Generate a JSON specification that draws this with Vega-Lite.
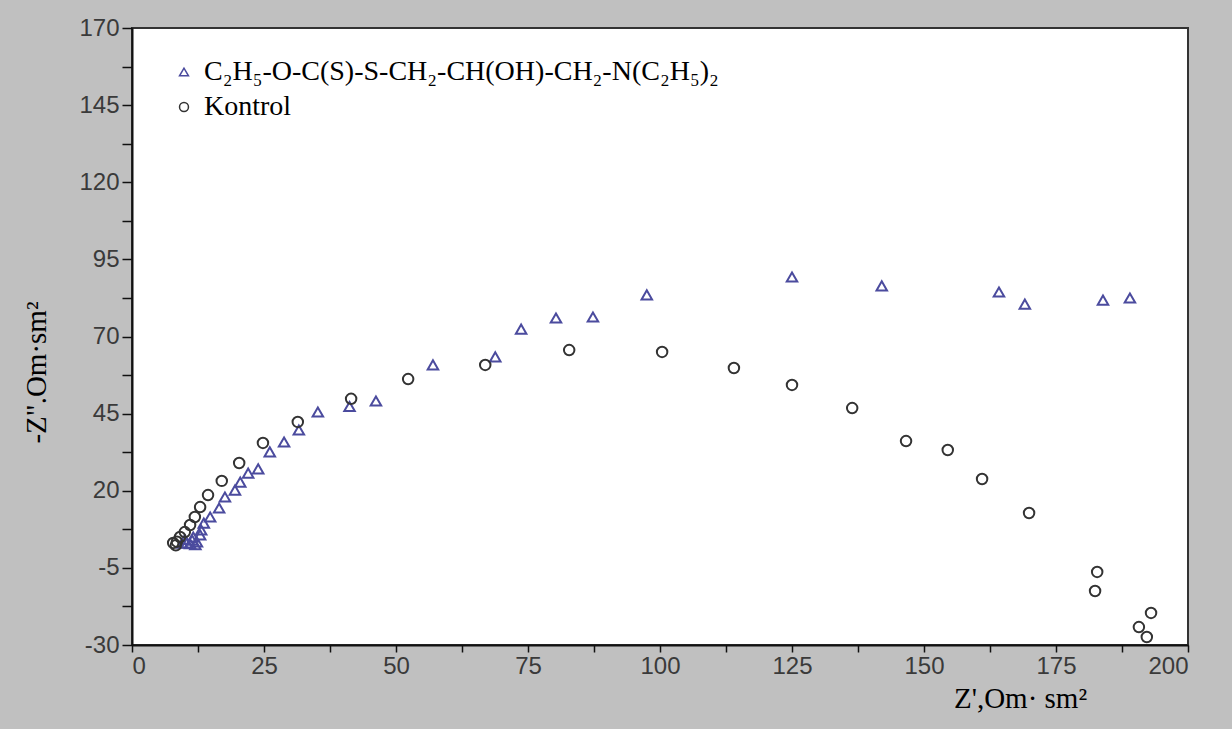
{
  "$schema": "https://vega.github.io/schema/vega-lite/v6.json",
  "autosize": "none",
  "width": 1056,
  "height": 617,
  "padding": {"left": 132, "top": 28, "right": 44, "bottom": 84},
  "background": "#c0c0c0",
  "config": {
    "view": {"fill": "white", "stroke": "#333333", "strokeWidth": 2},
    "axis": {
      "grid": false,
      "domainColor": "#111111",
      "domainWidth": 2,
      "tickColor": "#111111",
      "tickWidth": 1.5,
      "labelFont": "Liberation Sans",
      "labelFontSize": 24,
      "labelColor": "#3a3a3a",
      "titleFont": "Liberation Serif",
      "titleFontWeight": "normal",
      "titleFontSize": 29,
      "titleColor": "#000000"
    }
  },
  "data": {
    "values": [
      {"s": "A", "zr": 189.0, "zi": 82.5},
      {"s": "A", "zr": 183.9, "zi": 81.8},
      {"s": "A", "zr": 169.1, "zi": 80.5},
      {"s": "A", "zr": 164.2, "zi": 84.4},
      {"s": "A", "zr": 142.0, "zi": 86.4},
      {"s": "A", "zr": 125.0, "zi": 89.3},
      {"s": "A", "zr": 97.5, "zi": 83.5},
      {"s": "A", "zr": 87.3, "zi": 76.3},
      {"s": "A", "zr": 80.3, "zi": 76.0},
      {"s": "A", "zr": 73.7, "zi": 72.4},
      {"s": "A", "zr": 68.8, "zi": 63.4},
      {"s": "A", "zr": 57.0, "zi": 60.8},
      {"s": "A", "zr": 46.2, "zi": 49.1},
      {"s": "A", "zr": 41.2, "zi": 47.3},
      {"s": "A", "zr": 35.2, "zi": 45.5},
      {"s": "A", "zr": 31.6, "zi": 39.7},
      {"s": "A", "zr": 28.8, "zi": 35.8},
      {"s": "A", "zr": 26.1, "zi": 32.6},
      {"s": "A", "zr": 23.9, "zi": 27.1},
      {"s": "A", "zr": 22.0, "zi": 25.7},
      {"s": "A", "zr": 20.5, "zi": 22.8},
      {"s": "A", "zr": 19.5, "zi": 20.2},
      {"s": "A", "zr": 17.6, "zi": 18.0},
      {"s": "A", "zr": 16.5, "zi": 14.4},
      {"s": "A", "zr": 14.8, "zi": 11.5},
      {"s": "A", "zr": 13.6, "zi": 9.5},
      {"s": "A", "zr": 13.1, "zi": 7.3},
      {"s": "A", "zr": 12.9, "zi": 5.7},
      {"s": "A", "zr": 11.6, "zi": 5.0},
      {"s": "A", "zr": 12.3, "zi": 3.4},
      {"s": "A", "zr": 11.4, "zi": 4.0},
      {"s": "A", "zr": 10.4, "zi": 3.1},
      {"s": "A", "zr": 9.5, "zi": 3.0},
      {"s": "A", "zr": 11.0, "zi": 2.8},
      {"s": "A", "zr": 12.0, "zi": 2.5},
      {"s": "A", "zr": 10.0, "zi": 4.2},
      {"s": "B", "zr": 193.0, "zi": -19.6},
      {"s": "B", "zr": 190.7, "zi": -24.2},
      {"s": "B", "zr": 192.2, "zi": -27.4},
      {"s": "B", "zr": 182.8, "zi": -6.3},
      {"s": "B", "zr": 182.4, "zi": -12.5},
      {"s": "B", "zr": 169.9, "zi": 12.8},
      {"s": "B", "zr": 161.0, "zi": 23.8},
      {"s": "B", "zr": 154.5, "zi": 33.2},
      {"s": "B", "zr": 146.6, "zi": 36.1},
      {"s": "B", "zr": 136.4, "zi": 46.8},
      {"s": "B", "zr": 125.0, "zi": 54.3},
      {"s": "B", "zr": 114.0, "zi": 59.8},
      {"s": "B", "zr": 100.4, "zi": 65.0},
      {"s": "B", "zr": 82.8, "zi": 65.6},
      {"s": "B", "zr": 66.9, "zi": 60.8},
      {"s": "B", "zr": 52.3, "zi": 56.2},
      {"s": "B", "zr": 41.5, "zi": 49.8},
      {"s": "B", "zr": 31.4, "zi": 42.3},
      {"s": "B", "zr": 24.8, "zi": 35.5},
      {"s": "B", "zr": 20.3, "zi": 29.0},
      {"s": "B", "zr": 17.0, "zi": 23.2},
      {"s": "B", "zr": 14.4, "zi": 18.6},
      {"s": "B", "zr": 12.9, "zi": 14.7},
      {"s": "B", "zr": 11.9, "zi": 11.5},
      {"s": "B", "zr": 11.0, "zi": 8.9},
      {"s": "B", "zr": 10.0, "zi": 6.6},
      {"s": "B", "zr": 9.1, "zi": 5.0},
      {"s": "B", "zr": 8.5, "zi": 3.5},
      {"s": "B", "zr": 7.8, "zi": 3.1},
      {"s": "B", "zr": 8.3, "zi": 2.3}
    ]
  },
  "mark": {"type": "point", "filled": false, "strokeWidth": 2, "opacity": 1, "size": 110},
  "encoding": {
    "x": {
      "field": "zr", "type": "quantitative",
      "scale": {"domain": [0, 200], "nice": false, "zero": false},
      "axis": {
        "values": [0, 12.5, 25, 37.5, 50, 62.5, 75, 87.5, 100, 112.5, 125, 137.5, 150, 162.5, 175, 187.5, 200],
        "labelExpr": "datum.value % 25 == 0 ? datum.label : ''",
        "tickSize": 7,
        "labelPadding": 2,
        "title": "Z',Om· sm²",
        "titleAnchor": "start",
        "titleAlign": "center",
        "titleBaseline": "middle",
        "titleX": 888,
        "titleY": 53
      }
    },
    "y": {
      "field": "zi", "type": "quantitative",
      "scale": {"domain": [-30, 170], "nice": false, "zero": false},
      "axis": {
        "values": [-30, -17.5, -5, 7.5, 20, 32.5, 45, 57.5, 70, 82.5, 95, 107.5, 120, 132.5, 145, 157.5, 170],
        "labelExpr": "(datum.value + 30) % 25 == 0 ? replace(datum.label, '−', '-') : ''",
        "tickSize": 10,
        "labelPadding": 3,
        "title": "-Z\".Om·sm²",
        "titleAngle": 270,
        "titleAlign": "center",
        "titleBaseline": "middle",
        "titleX": -96,
        "titleY": 344
      }
    },
    "shape": {
      "field": "s", "type": "nominal",
      "scale": {"domain": ["A", "B"], "range": ["triangle-up", "circle"]},
      "legend": {
        "orient": "none", "legendX": 38, "legendY": 30, "title": null, "padding": 0,
        "labelExpr": "datum.value == 'A' ? 'C₂H₅-O-C(S)-S-CH₂-CH(OH)-CH₂-N(C₂H₅)₂' : 'Kontrol'",
        "labelFont": "Liberation Serif", "labelFontSize": 28, "labelColor": "#000000",
        "labelLimit": 900, "rowPadding": 7, "symbolSize": 80, "symbolStrokeWidth": 1.5,
        "labelOffset": 6
      }
    },
    "color": {
      "field": "s", "type": "nominal",
      "scale": {"domain": ["A", "B"], "range": ["#4b4b9e", "#333333"]}
    }
  }
}
